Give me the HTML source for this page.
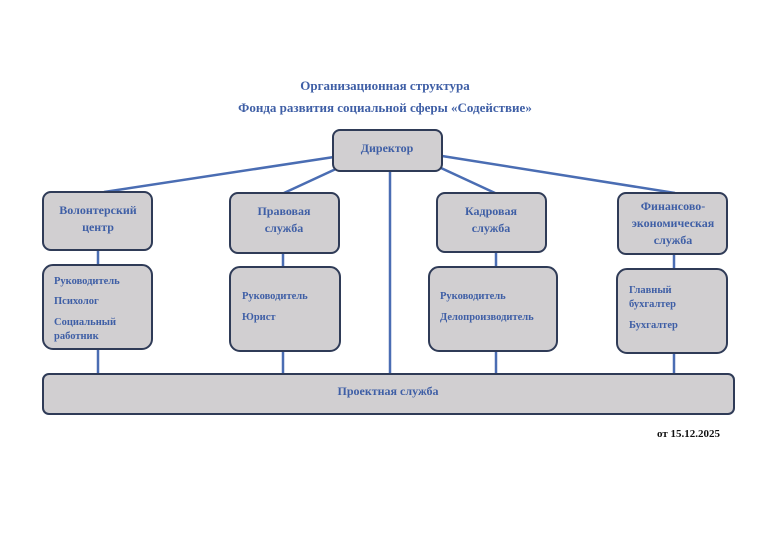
<!DOCTYPE html>
<html><head><meta charset="utf-8"><style>
html,body{margin:0;padding:0;background:#fff;}
svg{display:block;}
text{font-family:"Liberation Serif",serif;font-weight:bold;fill:#3f5fa6;}
</style></head><body>
<svg width="770" height="544" viewBox="0 0 770 544" xmlns="http://www.w3.org/2000/svg">
<g stroke="#4a6db3" stroke-width="2.5" fill="none">
<line x1="334" y1="157" x2="104" y2="192"/>
<line x1="338" y1="168" x2="284" y2="193"/>
<line x1="390" y1="171" x2="390" y2="374"/>
<line x1="441" y1="168" x2="495" y2="193"/>
<line x1="442" y1="156" x2="675" y2="193"/>
<line x1="98" y1="250" x2="98" y2="265"/>
<line x1="98" y1="349" x2="98" y2="374"/>
<line x1="283" y1="253" x2="283" y2="267"/>
<line x1="283" y1="351" x2="283" y2="374"/>
<line x1="496" y1="252" x2="496" y2="267"/>
<line x1="496" y1="351" x2="496" y2="374"/>
<line x1="674" y1="254" x2="674" y2="269"/>
<line x1="674" y1="353" x2="674" y2="374"/>
</g>
<g fill="#d1cfd1" stroke="#2f3b57" stroke-width="2">
<rect x="333" y="130" width="109" height="41" rx="7"/>
<rect x="43" y="192" width="109" height="58" rx="8"/>
<rect x="43" y="265" width="109" height="84" rx="10"/>
<rect x="230" y="193" width="109" height="60" rx="8"/>
<rect x="230" y="267" width="110" height="84" rx="10"/>
<rect x="437" y="193" width="109" height="59" rx="8"/>
<rect x="429" y="267" width="128" height="84" rx="10"/>
<rect x="618" y="193" width="109" height="61" rx="8"/>
<rect x="617" y="269" width="110" height="84" rx="10"/>
<rect x="43" y="374" width="691" height="40" rx="6"/>
</g>
<text x="385" y="90" text-anchor="middle" font-size="13">Организационная структура</text>
<text x="385" y="112" text-anchor="middle" font-size="13">Фонда развития социальной сферы «Содействие»</text>
<text x="387" y="152" text-anchor="middle" font-size="12">Директор</text>
<text x="98" y="214" text-anchor="middle" font-size="12">Волонтерский</text>
<text x="98" y="231" text-anchor="middle" font-size="12">центр</text>
<text x="284" y="215" text-anchor="middle" font-size="12">Правовая</text>
<text x="284" y="232" text-anchor="middle" font-size="12">служба</text>
<text x="491" y="215" text-anchor="middle" font-size="12">Кадровая</text>
<text x="491" y="232" text-anchor="middle" font-size="12">служба</text>
<text x="673" y="210" text-anchor="middle" font-size="12">Финансово-</text>
<text x="673" y="227" text-anchor="middle" font-size="12">экономическая</text>
<text x="673" y="244" text-anchor="middle" font-size="12">служба</text>
<g font-size="10.5">
<text x="54" y="284">Руководитель</text>
<text x="54" y="304">Психолог</text>
<text x="54" y="325">Социальный</text>
<text x="54" y="339">работник</text>
<text x="242" y="299">Руководитель</text>
<text x="242" y="320">Юрист</text>
<text x="440" y="299">Руководитель</text>
<text x="440" y="320">Делопроизводитель</text>
<text x="629" y="293">Главный</text>
<text x="629" y="307">бухгалтер</text>
<text x="629" y="328">Бухгалтер</text>
</g>
<text x="388" y="395" text-anchor="middle" font-size="12">Проектная служба</text>
<text x="720" y="437" text-anchor="end" font-size="11" style="fill:#111">от 15.12.2025</text>
</svg>
</body></html>
